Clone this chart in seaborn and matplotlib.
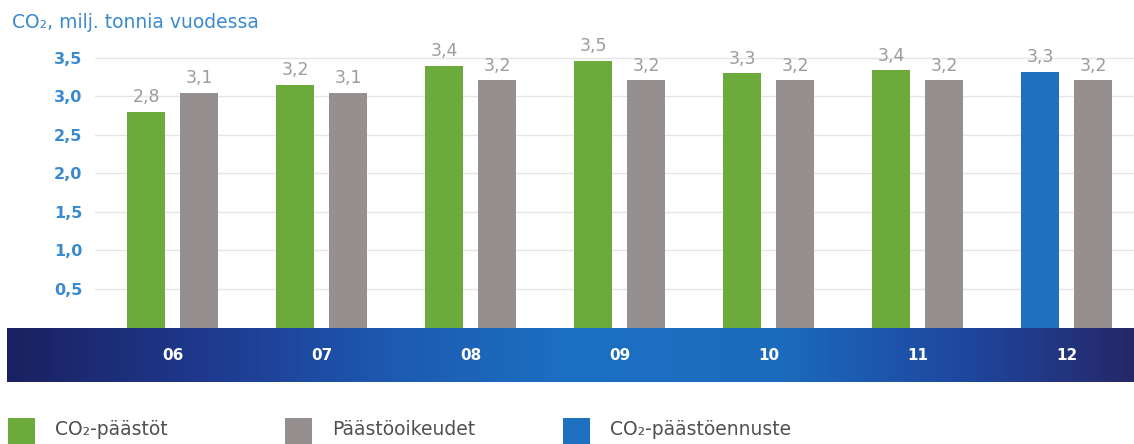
import numpy as np
import pandas as pd
import matplotlib
matplotlib.use("Agg")
import matplotlib.pyplot as plt
import seaborn as sns
from matplotlib.colors import LinearSegmentedColormap
from matplotlib.patches import Rectangle

# ---- data ----
years = ["06", "07", "08", "09", "10", "11", "12"]
emissions = [2.80, 3.15, 3.40, 3.46, 3.30, 3.34, 3.32]
allowances = [3.05, 3.05, 3.21, 3.21, 3.21, 3.21, 3.21]
emission_labels = ["2,8", "3,2", "3,4", "3,5", "3,3", "3,4", "3,3"]
allowance_labels = ["3,1", "3,1", "3,2", "3,2", "3,2", "3,2", "3,2"]
yticks = [0.5, 1.0, 1.5, 2.0, 2.5, 3.0, 3.5]
ytick_labels = ["0,5", "1,0", "1,5", "2,0", "2,5", "3,0", "3,5"]
series_names = ["CO₂-päästöt", "Päästöoikeudet", "CO₂-päästöennuste"]
title = "CO₂, milj. tonnia vuodessa"
forecast_year = "12"

GREEN = "#6caa3c"
GRAY = "#958f8f"
BLUE = "#1e71be"
TXT_BLUE = "#3a8ad0"

df = pd.DataFrame({
    "year": years * 2,
    "series": [series_names[0]] * len(years) + [series_names[1]] * len(years),
    "value": emissions + allowances,
})

sns.set_style("white")
plt.rcParams["font.family"] = ["DejaVu Sans"]

W, H = 1134, 444
fig = plt.figure(figsize=(W / 100, H / 100), dpi=100)

# gradient band
band = fig.add_axes([7 / W, (H - 382) / H, (W - 7) / W, 54 / H])
cmap = LinearSegmentedColormap.from_list(
    "band",
    [(0.0, "#1a2160"), (0.18, "#1f3a90"), (0.35, "#1d5bb2"), (0.5, "#1b70c3"),
     (0.68, "#1b6cbf"), (0.86, "#1f459c"), (1.0, "#252868")])
band.imshow(np.linspace(0, 1, 256)[None, :], aspect="auto", cmap=cmap,
            extent=[0, 1, 0, 1])
band.set_axis_off()

# main axes
ax = fig.add_axes([95 / W, (H - 327.5) / H, (W - 95) / W, 285 / H])
ax.set_facecolor("none")
sns.barplot(data=df, x="year", y="value", hue="series", order=years,
            hue_order=series_names[:2], palette=[GREEN, GRAY],
            width=0.71, gap=0.282, saturation=1, legend=False, ax=ax,
            linewidth=0, zorder=3)

# forecast bar recolor
idx = years.index(forecast_year)
ax.containers[0].patches[idx].set_facecolor(BLUE)

ax.bar_label(ax.containers[0], labels=emission_labels, padding=4,
             fontsize=12.5, color="#9c9c9c")
ax.bar_label(ax.containers[1], labels=allowance_labels, padding=4,
             fontsize=12.5, color="#9c9c9c")

ax.set_ylim(0, 3.7)
ax.set_xlim(-0.52, 6.45)
ax.set_yticks(yticks)
ax.set_yticklabels(ytick_labels, fontsize=11.5, fontweight="bold",
                   color=TXT_BLUE)
ax.tick_params(axis="y", length=0, pad=9)
ax.tick_params(axis="x", length=0, pad=15, labelsize=11,
               labelcolor="white")
for lbl in ax.get_xticklabels():
    lbl.set_fontweight("bold")
ax.yaxis.grid(True, color="#e6e6e6", lw=1, zorder=0)
ax.set_axisbelow(True)
ax.set_xlabel("")
ax.set_ylabel("")
for s in ax.spines.values():
    s.set_visible(False)

# title
fig.text(12 / W, (H - 22) / H, title, fontsize=13.5, color=TXT_BLUE,
         va="center", ha="left")

# legend
for x0, color, name in zip([8, 285, 563], [GREEN, GRAY, BLUE], series_names):
    fig.patches.append(Rectangle((x0 / W, 0), 27 / W, 26 / H,
                                 transform=fig.transFigure,
                                 facecolor=color, edgecolor="none"))
    fig.text((x0 + 47) / W, (H - 429) / H, name, fontsize=13.5,
             color="#505050", va="center", ha="left")

fig.savefig("out.png", dpi=100)
